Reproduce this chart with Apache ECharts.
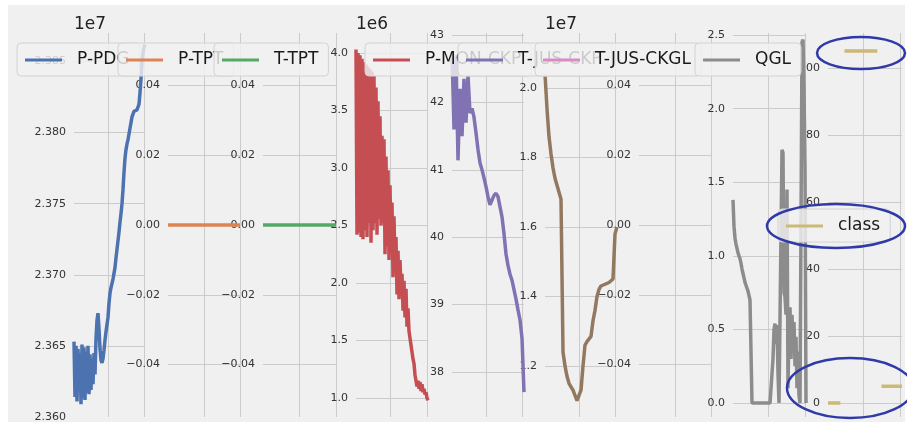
<!DOCTYPE html>
<html>
<head>
<meta charset="utf-8">
<script src="https://cdn.jsdelivr.net/npm/echarts@6/dist/echarts.min.js"></script>
<style>
html, body { margin: 0; padding: 0; background: #ffffff; }
#chart { width: 907px; height: 425px; }
</style>
</head>
<body>
<div id="chart"></div>
<script>
// one panel per well variable
var names = ['P-PDG', 'P-TPT', 'T-TPT', 'P-MON-CKP', 'T-JUS-CKP', 'P-JUS-CKGL', 'T-JUS-CKGL', 'QGL', 'class'];

// x1e7
var pPdg = [2.3653, 2.3614, 2.3650, 2.3611, 2.3648, 2.3618, 2.3645, 2.3609, 2.3651, 2.3613, 2.3649,
    2.3612, 2.3646, 2.3617, 2.3650, 2.3616, 2.3644, 2.3619, 2.3641, 2.3623, 2.3645, 2.3630,
    2.3655, 2.3668, 2.3673, 2.3662, 2.3648, 2.3640, 2.3638, 2.3641, 2.3647, 2.3654, 2.3660,
    2.3665, 2.3670, 2.3680, 2.3687, 2.3691, 2.3694, 2.3697, 2.3701, 2.3705, 2.3712, 2.3718,
    2.3724, 2.3730, 2.3737, 2.3743, 2.3750, 2.3760, 2.3772, 2.3782, 2.3788, 2.3792, 2.3795,
    2.3799, 2.3803, 2.3807, 2.3811, 2.3813, 2.3815, 2.3815, 2.3816, 2.3816, 2.3818, 2.3820,
    2.3828, 2.3838, 2.3850, 2.3856, 2.3860, 2.3862];
var pTpt = [0, 0, 0, 0, 0, 0, 0, 0, 0, 0, 0, 0, 0, 0, 0, 0, 0, 0, 0];
var tTpt = [0, 0, 0, 0, 0, 0, 0, 0, 0, 0, 0, 0, 0, 0, 0, 0, 0, 0, 0];
// x1e6
var pMonCkp = [4.03, 2.42, 4.00, 2.44, 3.98, 2.40, 3.95, 2.38, 3.92, 2.46, 3.90, 2.40, 3.88, 2.52,
    3.86, 2.35, 3.84, 2.46, 3.80, 2.52, 3.70, 2.42, 3.58, 2.56, 3.45, 2.50, 3.28, 2.52, 3.25,
    2.25, 3.10, 2.32, 2.98, 2.20, 2.85, 2.26, 2.70, 2.05, 2.58, 2.12, 2.40, 1.90, 2.28, 1.86,
    2.20, 1.95, 2.08, 1.76, 2.02, 1.70, 1.95, 1.62, 1.78, 1.58, 1.58, 1.46, 1.45, 1.34, 1.30,
    1.20, 1.20, 1.10, 1.15, 1.08, 1.14, 1.06, 1.12, 1.05, 1.08, 1.03, 1.05, 1.00, 0.98];
var tJusCkp = [42.75, 41.60, 42.70, 41.14, 42.20, 41.50, 42.35, 41.70, 42.40, 41.84, 41.91, 41.78,
    41.55, 41.30, 41.10, 41.00, 40.88, 40.75, 40.60, 40.48, 40.55, 40.62, 40.65, 40.60, 40.45,
    40.30, 40.05, 39.75, 39.58, 39.45, 39.36, 39.22, 39.08, 38.92, 38.77, 38.50, 37.70];
// x1e7
var pJusCkgl = [2.04, 1.94, 1.86, 1.81, 1.77, 1.74, 1.72, 1.70, 1.68, 1.24, 1.20, 1.17, 1.15, 1.14,
    1.13, 1.125, 1.10, 1.095, 1.13, 1.20, 1.26, 1.27, 1.27, 1.285, 1.33, 1.36, 1.40, 1.42, 1.43,
    1.43, 1.435, 1.44, 1.44, 1.44, 1.45, 1.58, 1.60];
var tJusCkgl = [null, null, null, null, null, null, null, null, null, null, null, null, null, null,
    null, null, null, null, null];
var qgl = [1.38, 1.20, 1.12, 1.08, 1.05, 1.02, 1.00, 0.98, 0.95, 0.91, 0.88, 0.85, 0.82, 0.80, 0.78,
    0.76, 0.73, 0.70, 0.69,
    0, 0, 0, 0, 0, 0, 0, 0, 0, 0, 0, 0, 0, 0, 0, 0, 0, 0, 0, 0, 0,
    0.30, 0.50, 0.54, 0.40, 0.53, 0.20, 0.00, 0.00, 0.00, 1.72, 1.70, 0.75, 0.72, 0.60, 1.45, 0.10,
    0.55, 0.65, 0.30, 0.60, 0.40, 0.55, 0.25, 0.45, 0.10, 0.35, 0.05, 0.00, 0.00, 2.45, 2.47, 2.15,
    1.60, 0.00];
var classVals = [0, 0, 0, 0, 0, 0, 0, null,
    105, 105, 105, 105, 105, 105, 105, 105, 105, 105, 105, 105, 105, 105, 105, 105, 105, null,
    5, 5, 5, 5, 5, 5, 5, 5, 5, 5, 5];

var values = [pPdg, pTpt, tTpt, pMonCkp, tJusCkp, pJusCkgl, tJusCkgl, qgl, classVals];

// axis ranges and label formats per panel
var yMin = [2.3600, -0.055, -0.055, 0.835, 37.33, 1.053, -0.055, -0.095, -4.2];
var yMax = [2.3870, 0.055, 0.055, 4.174, 43.03, 2.158, 0.055, 2.514, 110.4];
var ySplit = [5, 5, 5, 7, 6, 5, 5, 5, 6];
var yDigits = [3, 2, 2, 1, 0, 1, 2, 1, 0];
var offsetText = ['1e7', '', '', '1e6', '', '1e7', '', '', ''];

// layout
var colors = ['#4c72b0', '#dd8452', '#55a868', '#c44e52', '#8172b3', '#937860', '#da8bc3', '#8c8c8c', '#ccb974'];
var panelLeft = [74, 168, 263, 356, 452, 545, 639, 733, 828];
var panelWidth = [71, 72, 73, 72, 72, 72, 72, 73, 74];
var legendPos = [[17, 43], [118, 43], [214, 43], [365, 43], [458, 43], null, [535, 43], [695, 43], [778, 209]];

var FONT = 'DejaVu Sans';
var GRID = '#cbcbcb';

function fmt(d) {
    return function (v) {
        if (Math.abs(v) < 1e-12) v = 0;
        return v.toFixed(d).replace('-', '\u2212');
    };
}

function gridPicker(n) {
    var a = Math.round(0.478 * (n - 1));
    var b = Math.round(0.98 * (n - 1));
    return function (idx) { return idx === a || idx === b; };
}

var grids = [], xAxes = [], yAxes = [], series = [], legends = [];

for (var i = 0; i < values.length; i++) {
    var n = values[i].length;
    var cats = [];
    for (var k = 0; k < n; k++) cats.push(k);

    grids.push({ left: panelLeft[i], top: 33, width: panelWidth[i], height: 384 });

    xAxes.push({
        gridIndex: i,
        type: 'category',
        boundaryGap: false,
        data: cats,
        axisLine: { show: false },
        axisTick: { show: false },
        axisLabel: { show: false },
        splitLine: { show: true, interval: gridPicker(n), lineStyle: { color: GRID, width: 1 } }
    });

    yAxes.push({
        gridIndex: i,
        type: 'value',
        min: yMin[i],
        max: yMax[i],
        splitNumber: ySplit[i],
        axisLine: { show: false },
        axisTick: { show: false },
        axisLabel: {
            color: '#333',
            fontFamily: FONT,
            fontSize: 11,
            margin: 8,
            formatter: fmt(yDigits[i]),
            showMinLabel: i === 0,
            showMaxLabel: false
        },
        splitLine: { show: true, showMinLine: false, showMaxLine: false, lineStyle: { color: GRID, width: 1 } },
        name: offsetText[i],
        nameLocation: 'end',
        nameGap: 8,
        nameTextStyle: { fontFamily: FONT, fontSize: 17, color: '#222', align: 'left', verticalAlign: 'middle' }
    });

    series.push({
        name: names[i],
        type: 'line',
        xAxisIndex: i,
        yAxisIndex: i,
        data: values[i],
        symbol: 'none',
        showSymbol: false,
        connectNulls: false,
        lineStyle: { width: 3.5, color: colors[i] },
        itemStyle: { color: colors[i] },
        animation: false
    });

    if (legendPos[i]) {
        // each legend box sits on its own layer so the later ones cover the earlier ones
        legends.push({
            data: [names[i]],
            left: legendPos[i][0],
            top: legendPos[i][1],
            zlevel: 1 + legends.length,
            selectedMode: false,
            icon: 'rect',
            itemWidth: 37,
            itemHeight: 3,
            padding: [7, 10, 6, 8],
            backgroundColor: 'rgba(240,240,240,0.82)',
            borderColor: '#d2d2d2',
            borderWidth: 1,
            borderRadius: 4,
            textStyle: { fontFamily: FONT, fontSize: 17, color: '#1a1a1a', lineHeight: 20, padding: [0, 0, 0, 10] }
        });
    }
}

var ring = { fill: 'none', stroke: '#2f3aa8', lineWidth: 2.5 };

var option = {
    backgroundColor: '#ffffff',
    animation: false,
    grid: grids,
    xAxis: xAxes,
    yAxis: yAxes,
    legend: legends,
    series: series,
    graphic: [
        { type: 'rect', z: -10, silent: true, shape: { x: 8, y: 5, width: 897, height: 417 }, style: { fill: '#f0f0f0' } },
        { type: 'ellipse', zlevel: 30, silent: true, shape: { cx: 861, cy: 53, rx: 44, ry: 16 }, style: ring },
        { type: 'ellipse', zlevel: 30, silent: true, shape: { cx: 836, cy: 226, rx: 69, ry: 22 }, style: ring },
        { type: 'ellipse', zlevel: 30, silent: true, shape: { cx: 850, cy: 388, rx: 63, ry: 30 }, style: ring }
    ]
};

var myChart = echarts.init(document.getElementById('chart'));
myChart.setOption(option);
</script>
</body>
</html>
